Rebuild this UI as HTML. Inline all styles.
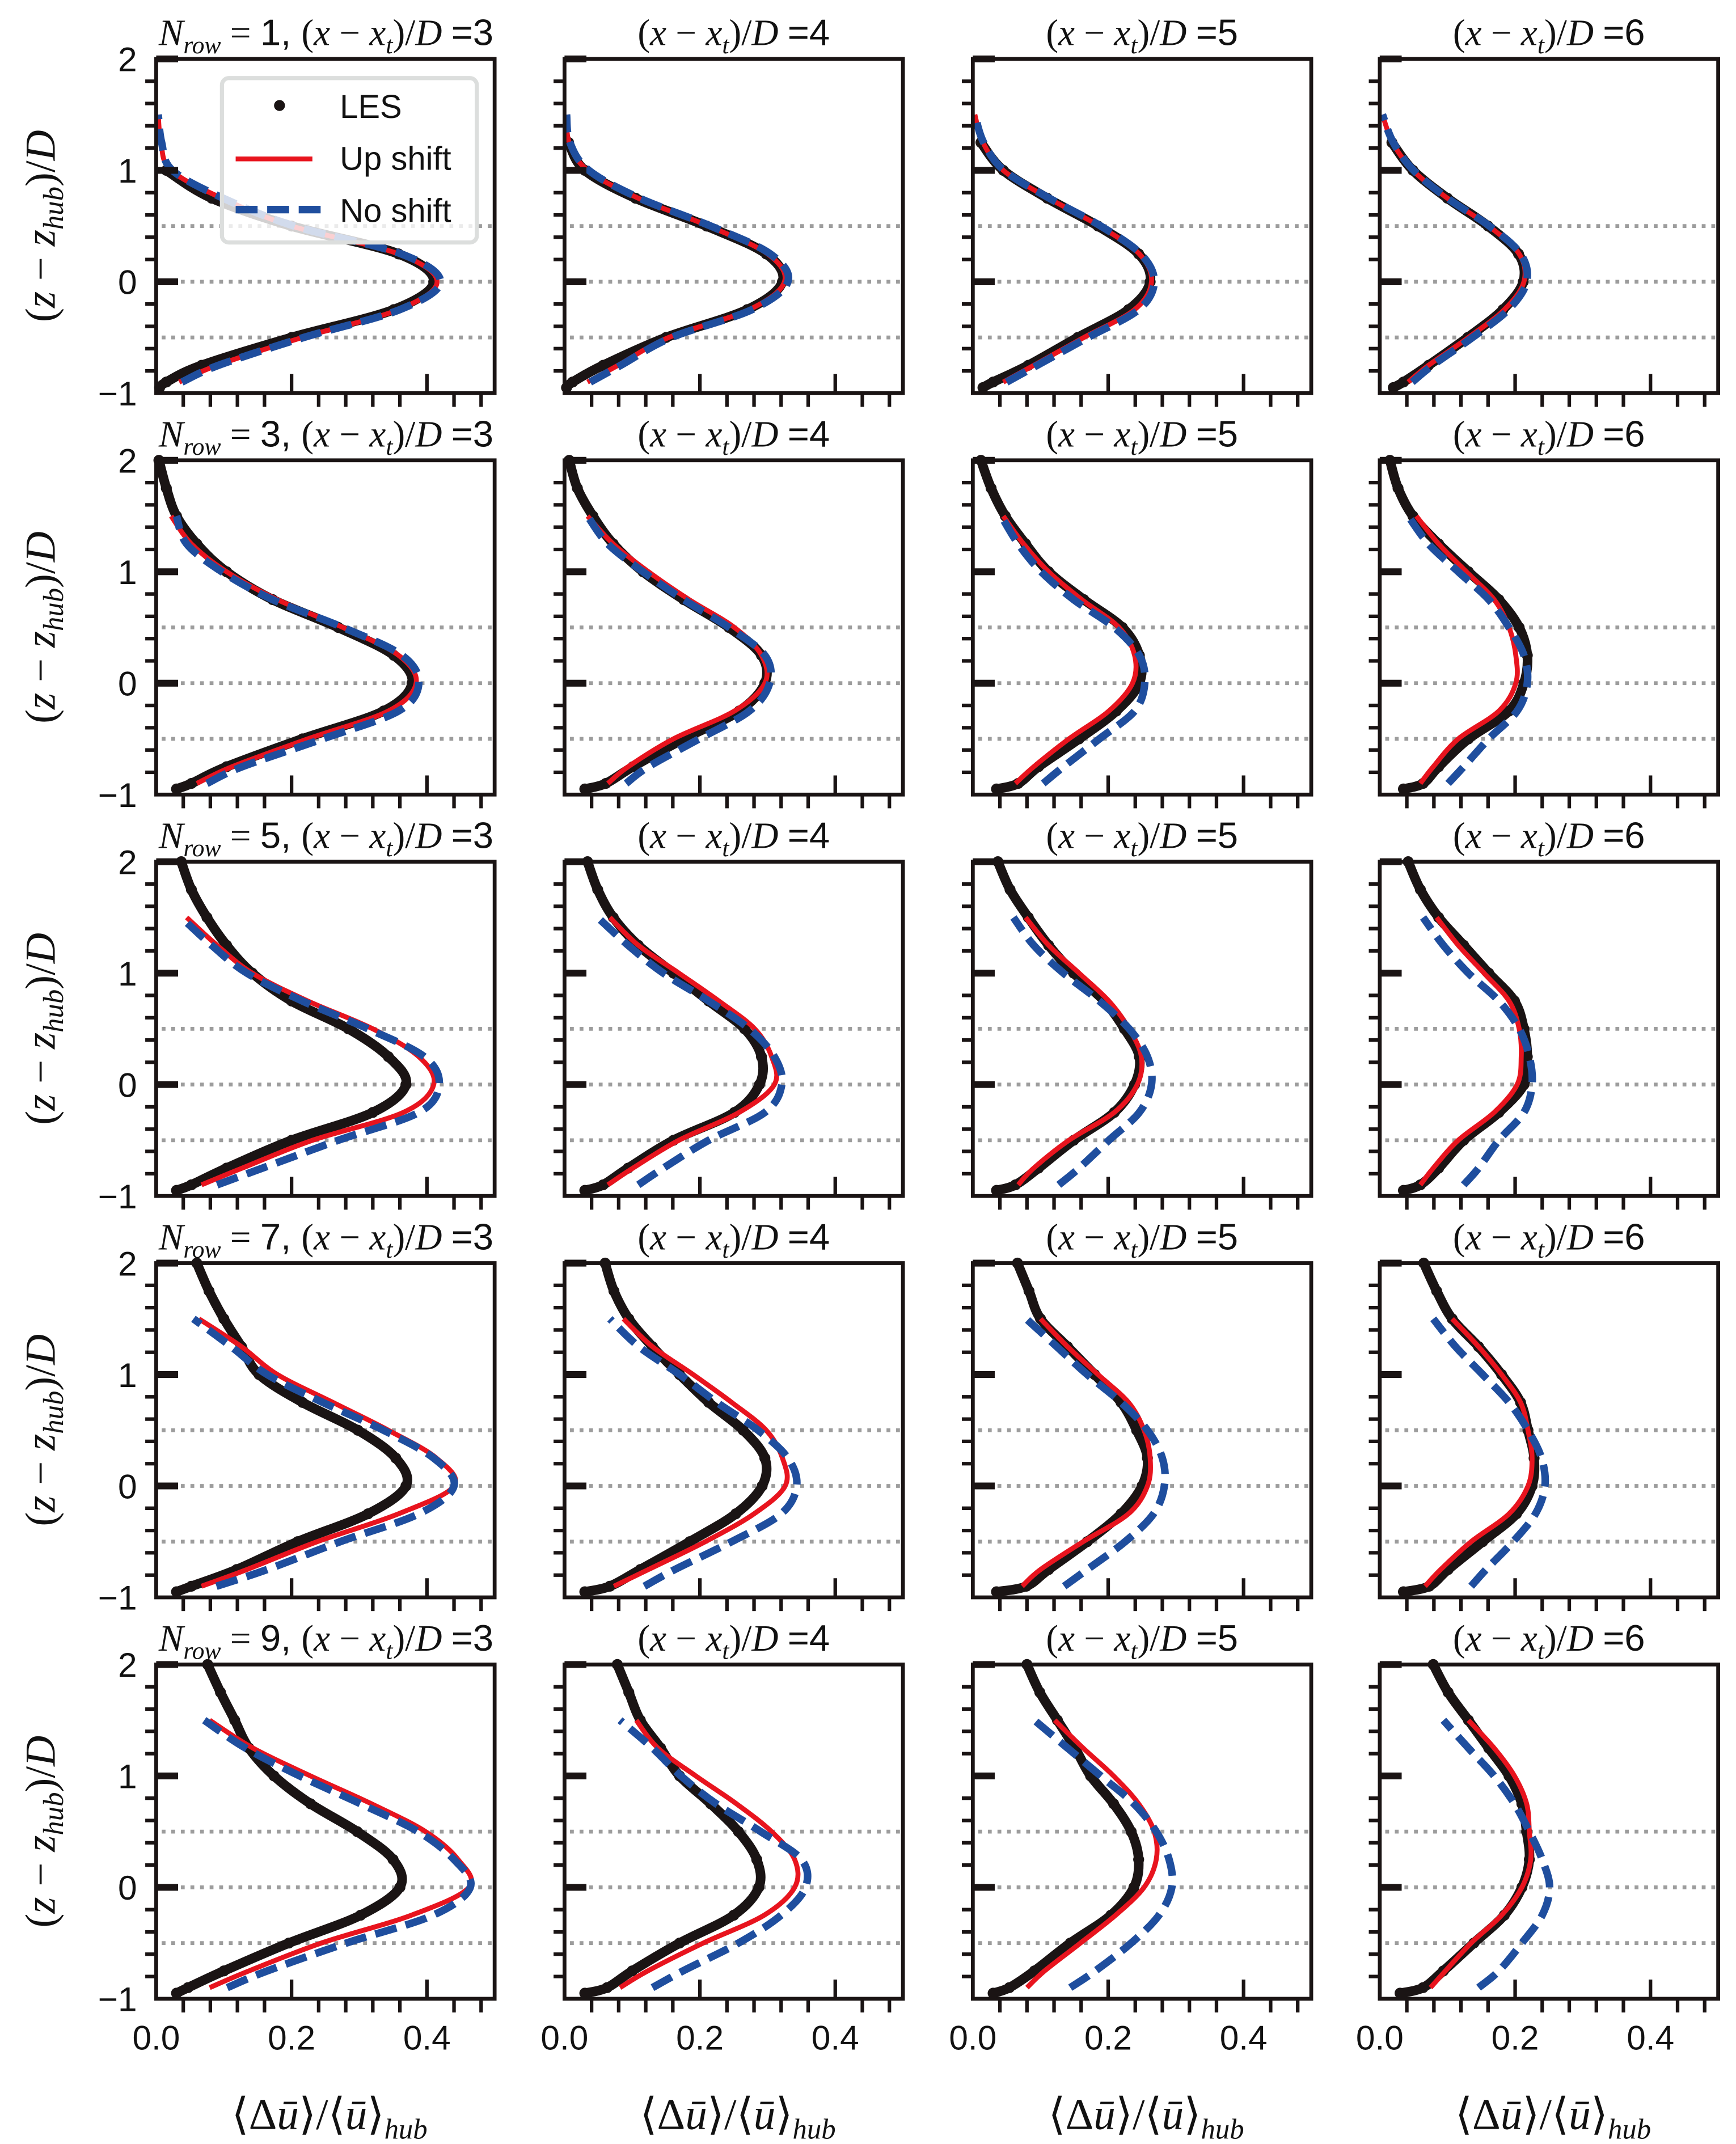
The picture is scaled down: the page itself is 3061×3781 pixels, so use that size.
<!DOCTYPE html>
<html><head><meta charset="utf-8">
<style>
html,body{margin:0;padding:0;background:#fff;}
svg{display:block;}
text{font-family:"Liberation Sans",sans-serif;fill:#111;}
.m{font-family:"Liberation Serif",serif;font-style:italic;}
.r{font-family:"Liberation Serif",serif;font-style:normal;}
</style></head>
<body>
<svg id="fig" xmlns="http://www.w3.org/2000/svg" width="3061" height="3781" viewBox="0 0 1267 1565">
<rect x="0" y="0" width="1267" height="1565" fill="#fff"/>
<g id="panels"></g>
<g id="legend">
  <rect x="162" y="57" width="186" height="120" rx="5" fill="#fff" fill-opacity="0.8" stroke="#dcdedd" stroke-width="3"/>
  <circle cx="204" cy="77" r="4" fill="#1a1414"/>
  <text x="248" y="86" font-size="24">LES</text>
  <line x1="172" y1="116" x2="228" y2="116" stroke="#e8141e" stroke-width="3.5"/>
  <text x="248" y="124" font-size="24">Up shift</text>
  <line x1="172" y1="153" x2="236" y2="153" stroke="#1f4e9e" stroke-width="5.5" stroke-dasharray="16,7"/>
  <text x="248" y="162" font-size="24">No shift</text>
</g>
</svg>
<script>
// ---- data ----
const zModel = [-0.9,-0.75,-0.5,-0.25,0,0.25,0.5,0.75,1.0,1.25,1.5];
const zLES = [-0.95,-0.9,-0.75,-0.5,-0.25,0,0.25,0.5,0.75,1.0,1.25,1.5,1.75,2.0];
const rowsN = [1,3,5,7,9];
const colsXD = [3,4,5,6];
const xTicks = [0.0,0.2,0.4];
const xTickLabels = ["0.0","0.2","0.4"];
const yTicks = [-1,0,1,2];
const yTickLabels = ["\u22121","0","1","2"];
const refLines = [0.5,0,-0.5];
// LES profiles [row][col]
const les = [
 [[0.005,0.015,0.067,0.2,0.351,0.41,0.358,0.2,0.082,0.015,null,null,null,null],
  [0.003,0.012,0.057,0.15,0.27,0.322,0.298,0.21,0.105,0.03,0.006,null,null,null],
  [0.015,0.03,0.082,0.155,0.23,0.262,0.245,0.185,0.11,0.045,0.012,null,null,null],
  [0.02,0.035,0.072,0.13,0.182,0.212,0.205,0.16,0.1,0.049,0.018,null,null,null]],
 [[0.03,0.052,0.104,0.216,0.336,0.378,0.351,0.269,0.172,0.104,0.06,0.03,0.015,0.004],
  [0.03,0.061,0.101,0.176,0.258,0.296,0.291,0.243,0.176,0.116,0.072,0.042,0.019,0.007],
  [0.035,0.067,0.097,0.157,0.212,0.246,0.246,0.221,0.164,0.112,0.078,0.048,0.027,0.012],
  [0.035,0.064,0.087,0.131,0.191,0.213,0.218,0.206,0.176,0.131,0.087,0.049,0.027,0.015]],
 [[0.03,0.052,0.104,0.2,0.32,0.369,0.343,0.284,0.2,0.142,0.104,0.075,0.052,0.037],
  [0.03,0.057,0.094,0.161,0.251,0.288,0.291,0.266,0.213,0.161,0.109,0.072,0.049,0.034],
  [0.035,0.063,0.097,0.149,0.209,0.239,0.246,0.224,0.194,0.149,0.112,0.082,0.055,0.037],
  [0.035,0.06,0.087,0.124,0.176,0.213,0.218,0.213,0.199,0.161,0.124,0.087,0.06,0.042]],
 [[0.03,0.052,0.119,0.209,0.313,0.369,0.354,0.298,0.216,0.152,0.126,0.1,0.078,0.06],
  [0.03,0.067,0.112,0.185,0.253,0.292,0.296,0.264,0.213,0.17,0.13,0.095,0.073,0.06],
  [0.035,0.079,0.112,0.169,0.219,0.25,0.258,0.242,0.219,0.18,0.14,0.1,0.083,0.066],
  [0.035,0.073,0.101,0.152,0.202,0.225,0.228,0.219,0.208,0.18,0.146,0.107,0.084,0.065]],
 [[0.03,0.047,0.1,0.196,0.302,0.36,0.35,0.297,0.228,0.174,0.137,0.116,0.095,0.076],
  [0.03,0.063,0.1,0.17,0.25,0.287,0.284,0.257,0.216,0.17,0.142,0.112,0.095,0.078],
  [0.03,0.054,0.091,0.144,0.204,0.238,0.245,0.234,0.208,0.174,0.151,0.125,0.099,0.08],
  [0.03,0.064,0.094,0.139,0.184,0.21,0.221,0.217,0.21,0.191,0.161,0.131,0.101,0.079]]
];
// Up-shift model [row][col]
const upShift = [
 [[0.034,0.09,0.216,0.358,0.415,0.358,0.2,0.097,0.022,0.007,0.003],
  [0.034,0.079,0.154,0.273,0.325,0.3,0.213,0.109,0.034,0.007,0.003],
  [0.045,0.09,0.164,0.239,0.264,0.246,0.187,0.112,0.045,0.015,0.003],
  [0.042,0.072,0.131,0.184,0.213,0.206,0.161,0.1,0.049,0.019,0.004]],
 [[0.06,0.112,0.224,0.343,0.384,0.358,0.276,0.179,0.104,0.052,0.022],
  [0.064,0.094,0.161,0.251,0.296,0.291,0.251,0.184,0.124,0.072,0.034],
  [0.063,0.09,0.142,0.201,0.236,0.239,0.216,0.161,0.112,0.075,0.045],
  [0.06,0.079,0.116,0.176,0.201,0.201,0.191,0.169,0.128,0.087,0.054]],
 [[0.067,0.127,0.231,0.365,0.41,0.388,0.32,0.224,0.142,0.09,0.045],
  [0.064,0.101,0.169,0.258,0.31,0.306,0.281,0.228,0.169,0.109,0.067],
  [0.067,0.09,0.142,0.209,0.243,0.249,0.231,0.201,0.157,0.112,0.078],
  [0.06,0.079,0.116,0.169,0.203,0.209,0.206,0.191,0.154,0.116,0.084]],
 [[0.067,0.134,0.238,0.358,0.44,0.414,0.343,0.261,0.179,0.126,0.063],
  [0.073,0.124,0.208,0.28,0.326,0.322,0.298,0.247,0.19,0.13,0.087],
  [0.073,0.1,0.163,0.23,0.258,0.262,0.253,0.23,0.185,0.14,0.1],
  [0.067,0.09,0.135,0.191,0.219,0.225,0.219,0.208,0.18,0.146,0.107]],
 [[0.079,0.137,0.244,0.377,0.462,0.446,0.398,0.318,0.228,0.143,0.079],
  [0.082,0.123,0.205,0.295,0.34,0.34,0.306,0.254,0.194,0.138,0.106],
  [0.08,0.106,0.159,0.211,0.253,0.271,0.268,0.245,0.208,0.163,0.121],
  [0.075,0.097,0.135,0.18,0.21,0.223,0.221,0.217,0.199,0.169,0.131]]
];
// No-shift model [row][col]
const noShift = [
 [[0.038,0.092,0.218,0.36,0.42,0.362,0.204,0.099,0.024,0.008,0.003],
  [0.038,0.083,0.158,0.277,0.33,0.304,0.216,0.111,0.036,0.008,0.003],
  [0.05,0.095,0.17,0.245,0.268,0.248,0.189,0.113,0.046,0.016,0.003],
  [0.048,0.078,0.137,0.19,0.217,0.208,0.162,0.1,0.05,0.02,0.004]],
 [[0.075,0.127,0.246,0.358,0.388,0.363,0.276,0.172,0.097,0.045,0.03],
  [0.091,0.124,0.199,0.273,0.303,0.296,0.243,0.176,0.116,0.064,0.034],
  [0.104,0.134,0.187,0.239,0.254,0.246,0.209,0.149,0.101,0.067,0.042],
  [0.101,0.124,0.161,0.203,0.218,0.213,0.191,0.161,0.116,0.072,0.042]],
 [[0.09,0.157,0.269,0.388,0.418,0.396,0.313,0.216,0.134,0.082,0.037],
  [0.109,0.146,0.213,0.296,0.321,0.31,0.273,0.213,0.146,0.094,0.049],
  [0.127,0.157,0.201,0.246,0.264,0.258,0.231,0.187,0.134,0.09,0.06],
  [0.124,0.146,0.176,0.213,0.225,0.221,0.206,0.176,0.131,0.094,0.064]],
 [[0.089,0.164,0.272,0.388,0.44,0.41,0.336,0.246,0.164,0.111,0.055],
  [0.118,0.163,0.247,0.32,0.343,0.33,0.286,0.225,0.17,0.11,0.067],
  [0.135,0.169,0.225,0.267,0.283,0.28,0.258,0.219,0.169,0.124,0.079],
  [0.135,0.157,0.197,0.23,0.244,0.239,0.219,0.191,0.152,0.112,0.079]],
 [[0.105,0.164,0.281,0.409,0.464,0.44,0.387,0.302,0.212,0.132,0.071],
  [0.13,0.175,0.257,0.32,0.356,0.35,0.29,0.224,0.172,0.13,0.082],
  [0.144,0.181,0.234,0.275,0.294,0.29,0.271,0.238,0.189,0.14,0.091],
  [0.146,0.176,0.21,0.24,0.251,0.24,0.221,0.199,0.169,0.131,0.094]]
];

// ---- layout ----
const colLeft = [114, 412, 710, 1007];
const rowTop = [43, 336, 629, 922, 1215];
const PW = 247, PH = 244;
const XMAX = 0.5, ZMIN = -1, ZMAX = 2;
const NS = "http://www.w3.org/2000/svg";
const root = document.getElementById('panels');

function mk(tag, attrs, parent){
  const e = document.createElementNS(NS, tag);
  for (const k in attrs) e.setAttribute(k, attrs[k]);
  (parent||root).appendChild(e);
  return e;
}
function sx(c, v){ return colLeft[c] + v / XMAX * PW; }
function sy(r, z){ return rowTop[r] + (ZMAX - z) / (ZMAX - ZMIN) * PH; }

function smoothPath(pts){
  if (pts.length < 2) return '';
  let d = 'M' + pts[0][0].toFixed(2) + ',' + pts[0][1].toFixed(2);
  for (let i = 0; i < pts.length - 1; i++){
    const p0 = pts[Math.max(0,i-1)], p1 = pts[i], p2 = pts[i+1], p3 = pts[Math.min(pts.length-1,i+2)];
    const c1x = p1[0] + (p2[0]-p0[0])/6, c1y = p1[1] + (p2[1]-p0[1])/6;
    const c2x = p2[0] - (p3[0]-p1[0])/6, c2y = p2[1] - (p3[1]-p1[1])/6;
    d += ' C' + c1x.toFixed(2)+','+c1y.toFixed(2)+' '+c2x.toFixed(2)+','+c2y.toFixed(2)+' '+p2[0].toFixed(2)+','+p2[1].toFixed(2);
  }
  return d;
}

for (let r = 0; r < rowsN.length; r++){
  for (let c = 0; c < colsXD.length; c++){
    const g = mk('g', {});
    
    
    const L = colLeft[c], T = rowTop[r];

    for (const z of refLines){
      const ln = mk('line', {x1: L+4, x2: L+PW-2, y1: sy(r,z), y2: sy(r,z), stroke:'#9d9d9d', 'stroke-width':2.8, 'stroke-dasharray':'2.8,4.2'}, g);
      
      
    }

    const lp = [];
    for (let i = 0; i < zLES.length; i++){
      const v = les[r][c][i];
      if (v === null) continue;
      lp.push([sx(c,v), sy(r,zLES[i])]);
    }
    const lesPath = mk('path', {d: smoothPath(lp), fill:'none', stroke:'#1a1414', 'stroke-width':7, 'stroke-linecap':'round', 'stroke-linejoin':'round'}, g);
    
    
    for (const p of lp){
      const dot = mk('circle', {cx:p[0], cy:p[1], r:4, fill:'#1a1414'}, g);
      
      
    }

    const up = zModel.map((z,i)=>[sx(c,upShift[r][c][i]), sy(r,z)]);
    const upPath = mk('path', {d: smoothPath(up), fill:'none', stroke:'#e8141e', 'stroke-width':3.6}, g);
    
    

    const no = zModel.map((z,i)=>[sx(c,noShift[r][c][i]), sy(r,z)]);
    const noPath = mk('path', {d: smoothPath(no), fill:'none', stroke:'#1f4e9e', 'stroke-width':5.5, 'stroke-dasharray':'16,7'}, g);
    
    

    const fr = mk('rect', {x:L, y:T, width:PW, height:PH, fill:'none', stroke:'#1a1414', 'stroke-width':2.8}, g);
    
    

    for (let k = -5; k <= 10; k++){
      const z = k * 0.2;
      const y = sy(r, z);
      if (k % 5 === 0){
        if (z > -1 && z <= 2){
          const t = mk('line', {x1:L, x2:L+16, y1:y, y2:y, stroke:'#1a1414', 'stroke-width':5}, g);
          
          
        }
      } else {
        const t = mk('line', {x1:L-8, x2:L, y1:y, y2:y, stroke:'#1a1414', 'stroke-width':2.6}, g);
        
        
      }
    }
    for (const v of xTicks){
      if (v === 0) continue;
      const t = mk('line', {x1:sx(c,v), x2:sx(c,v), y1:T+PH, y2:T+PH-14, stroke:'#1a1414', 'stroke-width':2.6}, g);
      
      
    }
    for (let k = 1; k <= 12; k++){
      if (k === 5 || k === 10) continue;
      const x = sx(c, k*0.04);
      const t = mk('line', {x1:x, x2:x, y1:T+PH, y2:T+PH+10, stroke:'#1a1414', 'stroke-width':2.6}, g);
      
      
    }

    if (c === 0){
      for (let i = 0; i < yTicks.length; i++){
        const tl = mk('text', {x:L-14, y:sy(r,yTicks[i])+9, 'font-size':25, 'text-anchor':'end'}, g);
        tl.textContent = yTickLabels[i];
        
        
      }
      const yl = mk('text', {x:0, y:0, 'font-size':31, 'text-anchor':'middle', transform:'translate(40,'+(T+PH/2)+') rotate(-90)', class:'m'}, g);
      yl.innerHTML = '<tspan class="r">(</tspan>z <tspan class="r">\u2212</tspan> z<tspan font-size="21" dy="6">hub</tspan><tspan class="r" dy="-6">)</tspan><tspan class="r">/</tspan>D';
      
      
    }
    if (r === rowsN.length - 1){
      for (let i = 0; i < xTicks.length; i++){
        const tl = mk('text', {x:sx(c,xTicks[i]), y:T+PH+37, 'font-size':25, 'text-anchor':'middle'}, g);
        tl.textContent = xTickLabels[i];
        
        
      }
      const xl = mk('text', {x:L+PW/2 + 3, y:1554, 'font-size':32, 'text-anchor':'middle', class:'r'}, g);
      xl.innerHTML = '\u27E8\u0394<tspan class="m">\u016B</tspan>\u27E9/\u27E8<tspan class="m">\u016B</tspan>\u27E9<tspan class="m" font-size="21" dy="7">hub</tspan>';
      
      
    }
    const tt = mk('text', {x: c===0 ? L+124 : L+PW/2, y:T-10, 'font-size':27, 'text-anchor':'middle', class:'m'}, g);
    let s = '';
    if (c === 0) s += 'N<tspan font-size="18" dy="6">row</tspan><tspan class="r" dy="-6"> = </tspan><tspan style="font-family:Liberation Sans;font-style:normal">' + rowsN[r] + ', </tspan>';
    s += '<tspan class="r">(</tspan>x <tspan class="r">\u2212</tspan> x<tspan font-size="18" dy="6">t</tspan><tspan class="r" dy="-6">)/</tspan>D <tspan style="font-family:Liberation Sans;font-style:normal">=' + colsXD[c] + '</tspan>';
    tt.innerHTML = s;
    
    
  }
}
document.getElementById('fig').appendChild(document.getElementById('legend'));
</script>
</body></html>
